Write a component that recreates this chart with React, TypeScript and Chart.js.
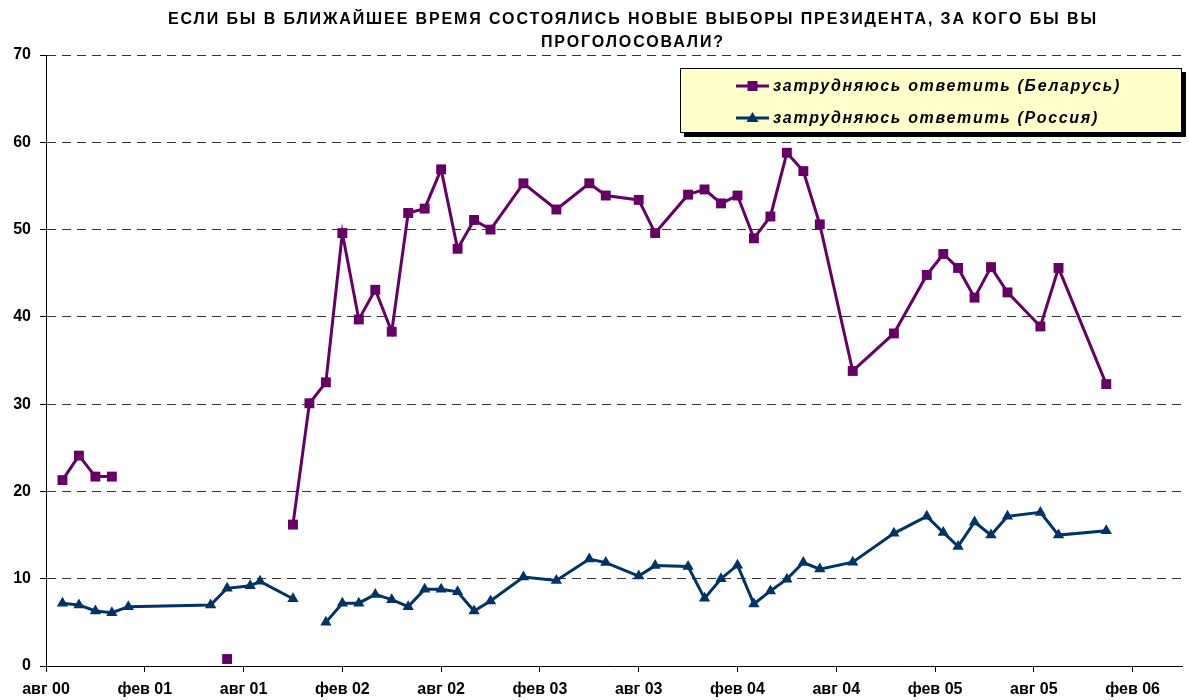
import React, { useEffect, useRef } from 'react';
import { Chart, registerables } from 'chart.js';

Chart.register(...registerables);

// x = months counted from August 2000 (авг 00 = 0)
const monthIndex = [
  1, 2, 3, 4, 5, 10, 11, 12.4, 13, 15, 16, 17, 18, 19, 20, 21, 22, 23, 24, 25, 26, 27,
  29, 31, 33, 34, 36, 37, 39, 40, 41, 42, 43, 44, 45, 46, 47, 49,
  51.5, 53.5, 54.5, 55.4, 56.4, 57.4, 58.4, 60.4, 61.5, 64.4,
];

const belarus = [
  21.3, 24.1, 21.7, 21.7, null, null, 0.8, null, null, 16.2, 30.1, 32.5, 49.6, 39.7, 43.1, 38.3, 51.9, 52.4, 56.9, 47.8, 51.1, 50.0,
  55.3, 52.3, 55.3, 53.9, 53.4, 49.6, 54.0, 54.6, 53.0, 53.9, 49.0, 51.5, 58.8, 56.7, 50.6, 33.8,
  38.1, 44.8, 47.2, 45.6, 42.2, 45.7, 42.8, 38.9, 45.6, 32.3,
];

const russia = [
  7.2, 7.0, 6.3, 6.1, 6.8, 7.0, 8.9, 9.2, 9.7, 7.7, null, 5.0, 7.2, 7.2, 8.2, 7.6, 6.8, 8.8, 8.8, 8.5, 6.3, 7.45,
  10.2, 9.8, 12.25, 11.85, 10.3, 11.5, 11.4, 7.75, 10.0, 11.55, 7.1, 8.6, 9.95, 11.85, 11.1, 11.9,
  15.2, 17.15, 15.3, 13.7, 16.5, 15.0, 17.15, 17.6, 15.0, 15.5,
];

const xTickValues = [0, 6, 12, 18, 24, 30, 36, 42, 48, 54, 60, 66];
const xTickLabels = ['авг 00', 'фев 01', 'авг 01', 'фев 02', 'авг 02', 'фев 03', 'авг 03', 'фев 04', 'авг 04', 'фев 05', 'авг 05', 'фев 06'];
const yTickValues = [0, 10, 20, 30, 40, 50, 60, 70];

const titleLines = [
  'ЕСЛИ БЫ В БЛИЖАЙШЕЕ ВРЕМЯ СОСТОЯЛИСЬ НОВЫЕ ВЫБОРЫ ПРЕЗИДЕНТА, ЗА КОГО БЫ ВЫ',
  'ПРОГОЛОСОВАЛИ?',
];
const seriesLabels = ['затрудняюсь ответить (Беларусь)', 'затрудняюсь ответить (Россия)'];
const seriesColors = ['#660066', '#003366'];

const FONT = '"Liberation Sans", Arial, sans-serif';

const overlayPlugin = {
  id: 'overlay',
  afterDraw(chart: any) {
    const ctx: CanvasRenderingContext2D = chart.ctx;
    ctx.save();
    // Title
    ctx.fillStyle = '#000';
    ctx.font = `bold 16px ${FONT}`;
    ctx.textAlign = 'center';
    ctx.textBaseline = 'middle';
    (ctx as any).letterSpacing = '0px';
    const w0 = ctx.measureText(titleLines[0]).width;
    const ls = Math.max(0, (930 - w0) / titleLines[0].length);
    (ctx as any).letterSpacing = ls + 'px';
    ctx.fillText(titleLines[0], 632 + ls / 2, 20);
    ctx.fillText(titleLines[1], 632 + ls / 2, 43);

    // Legend box
    const bx = 680, by = 68, bw = 502, bh = 65;
    ctx.fillStyle = '#000';
    ctx.fillRect(bx + 4, by + 4, bw, bh);
    ctx.fillStyle = '#FFFFCC';
    ctx.fillRect(bx, by, bw, bh);
    ctx.strokeStyle = '#000';
    ctx.lineWidth = 1;
    ctx.strokeRect(bx + 0.5, by + 0.5, bw - 1, bh - 1);

    ctx.font = `italic bold 16px ${FONT}`;
    ctx.textAlign = 'left';
    (ctx as any).letterSpacing = '0px';
    const lw = ctx.measureText(seriesLabels[0]).width;
    const lls = Math.max(0, (348 - lw) / seriesLabels[0].length);
    seriesLabels.forEach((label, i) => {
      const y = 86 + i * 32;
      ctx.strokeStyle = seriesColors[i];
      ctx.lineWidth = 3;
      ctx.beginPath();
      ctx.moveTo(736, y);
      ctx.lineTo(769, y);
      ctx.stroke();
      ctx.fillStyle = seriesColors[i];
      const cx = 752.5;
      if (i === 0) {
        ctx.fillRect(cx - 5, y - 5, 10, 10);
      } else {
        ctx.beginPath();
        ctx.moveTo(cx, y - 6);
        ctx.lineTo(cx + 6, y + 4);
        ctx.lineTo(cx - 6, y + 4);
        ctx.closePath();
        ctx.fill();
      }
      ctx.fillStyle = '#000';
      (ctx as any).letterSpacing = lls + 'px';
      ctx.fillText(label, 773, y + 1);
    });
    ctx.restore();
  },
};

export default function App() {
  const ref = useRef<HTMLCanvasElement>(null);
  useEffect(() => {
    document.body.style.margin = '0';
    const tickFont = { family: FONT, size: 16, weight: 'bold' as const };
    const chart = new Chart(ref.current!, {
      type: 'line',
      data: {
        datasets: [
          {
            label: seriesLabels[0],
            data: monthIndex.map((m, i) => ({ x: m, y: belarus[i] })) as any,
            borderColor: seriesColors[0],
            backgroundColor: seriesColors[0],
            borderWidth: 3,
            pointStyle: 'rect',
            pointRadius: 7,
            pointBorderWidth: 0,
            pointHoverRadius: 7,
            spanGaps: false,
            tension: 0,
          },
          {
            label: seriesLabels[1],
            data: monthIndex.map((m, i) => ({ x: m, y: russia[i] })) as any,
            borderColor: seriesColors[1],
            backgroundColor: seriesColors[1],
            borderWidth: 3,
            pointStyle: 'triangle',
            pointRadius: 6.5,
            pointBorderWidth: 0,
            pointHoverRadius: 6.5,
            spanGaps: false,
            tension: 0,
          },
        ],
      },
      options: {
        animation: false,
        responsive: false,
        maintainAspectRatio: false,
        layout: { padding: { top: 55, left: 0, right: 0, bottom: 0 } },
        plugins: {
          legend: { display: false },
          title: { display: false },
          tooltip: { enabled: false },
        },
        scales: {
          x: {
            type: 'linear',
            min: 0,
            max: 69.0,
            afterBuildTicks: (s: any) => {
              s.ticks = xTickValues.map((v) => ({ value: v }));
            },
            afterFit: (s: any) => {
              s.height = 34;
            },
            ticks: {
              callback: (v: any) => {
                const k = xTickValues.indexOf(Number(v));
                return k >= 0 ? xTickLabels[k] : '';
              },
              font: tickFont,
              color: '#000',
              padding: 8,
              maxRotation: 0,
              autoSkip: false,
            },
            grid: { drawOnChartArea: false, drawTicks: true, tickLength: 6, color: '#000', lineWidth: 1 },
            border: { display: true, color: '#000', width: 1 },
          },
          y: {
            min: 0,
            max: 70,
            afterBuildTicks: (s: any) => {
              s.ticks = yTickValues.map((v) => ({ value: v }));
            },
            afterFit: (s: any) => {
              s.width = 46;
            },
            ticks: { font: tickFont, color: '#000', padding: 9 },
            grid: { color: '#333', lineWidth: 1, tickLength: 6, tickColor: '#000', drawTicks: true },
            border: { display: true, color: '#000', width: 1, dash: [9, 6] },
          },
        },
      },
      plugins: [overlayPlugin],
    });
    return () => chart.destroy();
  }, []);
  return (
    <div style={{ width: 1189, height: 700 }}>
      <canvas ref={ref} width={1189} height={700} style={{ display: 'block', width: 1189, height: 700 }} />
    </div>
  );
}
